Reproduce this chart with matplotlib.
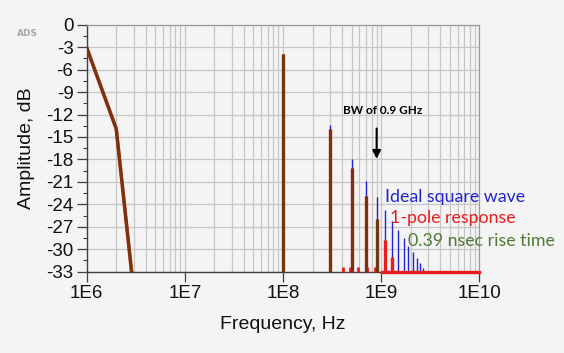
import matplotlib.pyplot as plt
from matplotlib.ticker import FixedLocator, MultipleLocator, LogLocator, NullFormatter

# odd harmonics of the 100 MHz square wave
harm_f = [1e8, 3e8, 5e8, 7e8, 9e8, 1.1e9, 1.3e9, 1.5e9, 1.7e9, 1.9e9,
          2.1e9, 2.3e9, 2.5e9, 2.7e9]
ideal_db = [-3.92, -13.46, -17.90, -20.82, -23.00, -24.75, -26.20, -27.44,
            -28.53, -29.50, -30.36, -31.15, -31.88, -32.55]
pole_f = [1e8, 3e8, 5e8, 7e8, 9e8, 1.1e9, 1.3e9]
pole_db = [-3.97, -13.9, -19.1, -22.9, -26.0, -28.7, -31.1]
rise_f = [1e8, 3e8, 5e8, 7e8, 9e8]
rise_db = [-3.97, -13.9, -19.1, -22.9, -26.0]

# low frequency leakage (same for all three)
low_f = [1e6, 2e6, 3e6]
low_db = [-3.07, -13.9, -35.4]

# small even-harmonic residue of the 1-pole trace near the floor
leak_f = [4.1e8, 4.8e8, 5.8e8, 7.2e8, 8.6e8]
leak_db = [-32.4, -32.4, -32.4, -32.4, -32.4]

# clipped floor of the 1-pole spectrum
floor_f = [1.02e9, 1e10]

xticks = [1e6, 1e7, 1e8, 1e9, 1e10]
xlabels = ["1E6", "1E7", "1E8", "1E9", "1E10"]
yticks = list(range(0, -34, -3))

blue = "#2323d2"
red = "#ea1c1c"
green = "#1f4a08"
bg = "#f4f4f4"
ymin = -33

fig = plt.figure(figsize=(5.64, 3.53), dpi=100, facecolor=bg)
ax = fig.add_axes([0.1537, 0.2303, 0.6961, 0.6997])
ax.set_facecolor(bg)
ax.set_xscale("log")
ax.set_xlim(1e6, 1e10)
ax.set_ylim(ymin, 0)

# spectra
ax.plot(low_f, low_db, color=blue, lw=1.0, zorder=3)
ax.vlines(harm_f, ymin, ideal_db, color=blue, lw=1.0, zorder=3)
ax.plot(low_f, low_db, color=red, lw=2.6, zorder=4)
ax.vlines(pole_f, ymin, pole_db, color=red, lw=2.4, zorder=4)
ax.vlines(leak_f, ymin, leak_db, color=red, lw=2.0, zorder=4, clip_on=False)
ax.plot(floor_f, [ymin, ymin], color=red, lw=2.4, zorder=4, clip_on=False)
ax.plot(low_f, low_db, color=green, lw=2.2, alpha=0.6, zorder=5)
ax.vlines(rise_f, ymin, rise_db, color=green, lw=2.2, alpha=0.6, zorder=5)

# ticks and grid
ax.xaxis.set_major_locator(FixedLocator(xticks))
ax.set_xticklabels(xlabels)
ax.xaxis.set_minor_locator(LogLocator(base=10, subs=range(2, 10)))
ax.xaxis.set_minor_formatter(NullFormatter())
ax.set_yticks(yticks)
ax.set_yticklabels([str(v) for v in yticks])
ax.yaxis.set_minor_locator(MultipleLocator(1.5))
ax.tick_params(axis="both", which="major", length=7.5, width=0.9, color="#404040",
               labelsize=13.5, labelcolor="#111111", pad=2)
ax.tick_params(axis="x", which="minor", length=0)
ax.tick_params(axis="y", which="minor", length=3, width=0.8, color="#404040")
ax.grid(True, which="major", color="#c6c6c6", lw=0.9)
ax.grid(True, which="minor", axis="x", color="#c6c6c6", lw=0.9)
ax.set_axisbelow(True)
for s in ["left", "bottom"]:
    ax.spines[s].set_color("#404040")
    ax.spines[s].set_linewidth(1.0)
for s in ["top", "right"]:
    ax.spines[s].set_color("#9a9a9a")
    ax.spines[s].set_linewidth(0.9)

for t in ax.get_xticklabels() + ax.get_yticklabels():
    t.set_family("Liberation Sans")
ax.set_xlabel("Frequency, Hz", fontsize=14, family="Liberation Sans", color="#111111", labelpad=10)
ax.set_ylabel("Amplitude, dB", fontsize=14, family="Liberation Sans", color="#111111", labelpad=8)

# annotations
ax.annotate("", xy=(9e8, -18.3), xytext=(9e8, -13.5),
            arrowprops=dict(arrowstyle="-|>", color="black", lw=1.5, mutation_scale=12))
ax.text(1.045e9, -11.5, "BW of 0.9 GHz", fontsize=8.5, weight="bold", family="Lato",
        ha="center", va="center", color="black")
ax.text(1.094e9, -23.0, "Ideal square wave", fontsize=12.8, family="Lato",
        color=blue, va="center", clip_on=False)
ax.text(1.23e9, -25.8, "1-pole response", fontsize=12.8, family="Lato",
        color=red, va="center", clip_on=False)
ax.text(1.87e9, -28.9, "0.39 nsec rise time", fontsize=12.8, family="Lato",
        color="#4f7a35", va="center", clip_on=False)

fig.text(17 / 564, 1 - 33 / 353, "ADS", fontsize=6.5, color="#a8a8a8", weight="bold", va="center")

fig.savefig("out.png", dpi=100, facecolor=bg)
